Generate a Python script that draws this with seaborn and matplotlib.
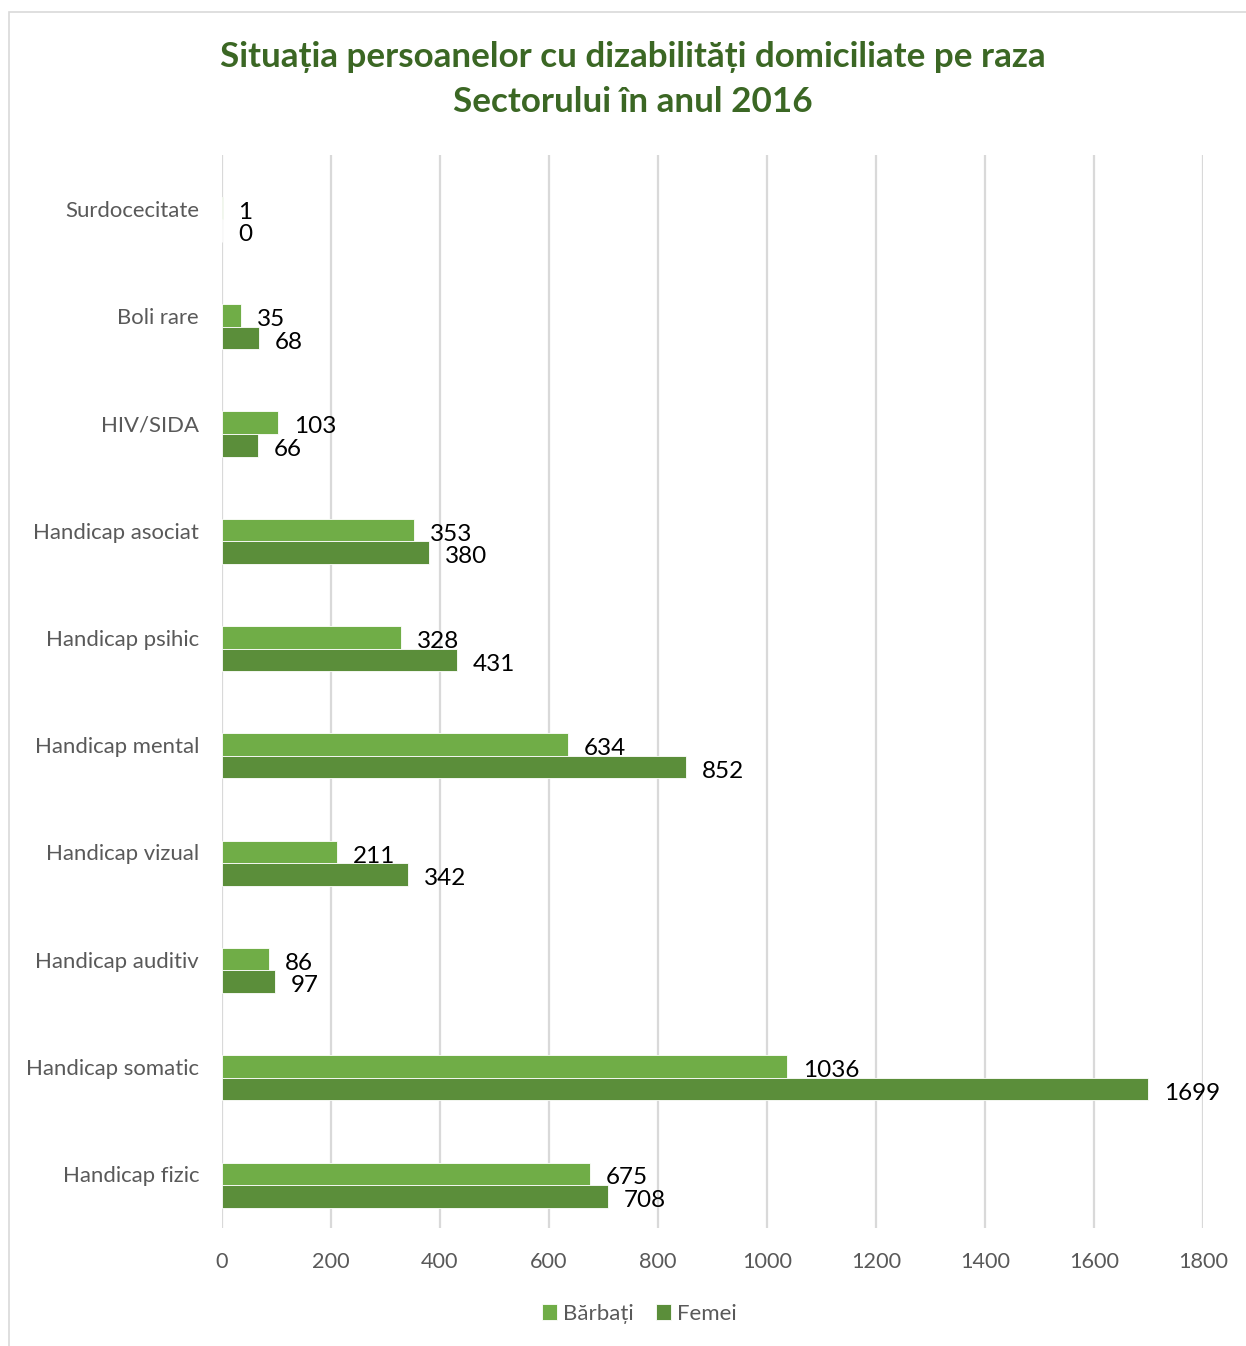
import numpy as np
import pandas as pd
import seaborn as sns
import matplotlib
matplotlib.use("Agg")
import matplotlib.pyplot as plt
from matplotlib.patches import Rectangle

categories = ["Surdocecitate", "Boli rare", "HIV/SIDA", "Handicap asociat", "Handicap psihic",
              "Handicap mental", "Handicap vizual", "Handicap auditiv", "Handicap somatic", "Handicap fizic"]
barbati = [1, 35, 103, 353, 328, 634, 211, 86, 1036, 675]
femei = [0, 68, 66, 380, 431, 852, 342, 97, 1699, 708]
series = ["Bărbați", "Femei"]
xticks = [0, 200, 400, 600, 800, 1000, 1200, 1400, 1600, 1800]
title = "Situația persoanelor cu dizabilități domiciliate pe raza\nSectorului în anul 2016"

df = pd.DataFrame({
    "cat": categories * 2,
    "val": barbati + femei,
    "serie": [series[0]] * len(categories) + [series[1]] * len(categories),
})

sns.set_theme(style="white")
plt.rcParams["font.family"] = ["Lato", "DejaVu Sans"]

W, H = 1246, 1346
fig = plt.figure(figsize=(W / 100, H / 100), dpi=100)
ax = fig.add_axes([222 / W, 1 - 1228 / H, (1203 - 222) / W, (1228 - 155) / H])

sns.barplot(data=df, y="cat", x="val", hue="serie", order=categories, hue_order=series,
            palette=["#70AD47", "#5B8E3A"], saturation=1, orient="h", width=0.42, ax=ax,
            edgecolor="white", linewidth=0.6, legend=True)

for cont in ax.containers:
    texts = ax.bar_label(cont, fmt="%d", padding=11.5, fontsize=17.5, color="black")
    for t in texts:
        t.xyann = (11.5, -3.0)

ax.set_xlim(0, 1800)
ax.set_ylim(len(categories) - 0.6, -0.6)
ax.set_xticks(xticks)
ax.set_xticklabels([str(t) for t in xticks])
ax.set_yticks(np.arange(len(categories)) - 0.1)
ax.set_yticklabels(categories)
ax.tick_params(axis="x", length=0, pad=17, labelsize=15.6, labelcolor="#595959")
ax.tick_params(axis="y", length=0, pad=16.5, labelsize=15.9, labelcolor="#595959")
ax.set_xlabel("")
ax.set_ylabel("")
ax.grid(axis="x", color="#D9D9D9", linewidth=1.6)
ax.grid(axis="y", visible=False)
ax.set_axisbelow(True)
for s in ax.spines.values():
    s.set_visible(False)

handles, labels = ax.get_legend_handles_labels()
ax.get_legend().remove()
fig.legend(handles, labels, loc="center", bbox_to_anchor=(639 / W, 1 - 1314 / H), ncol=2,
           frameon=False, fontsize=16, labelcolor="#595959", handlelength=0.7, handleheight=0.7,
           handletextpad=0.25, columnspacing=1.0)

fig.text(633 / W, 1 - 79.5 / H, title, ha="center", va="center", fontsize=25.2, fontweight="bold",
         color="#3B6724", linespacing=1.53)

fig.patches.append(Rectangle((9 / W, -0.01), 1.0, 1 - 12 / H + 0.01, transform=fig.transFigure,
                             fill=False, edgecolor="#D9D9D9", linewidth=1.2))

fig.savefig("out.png", dpi=100)
